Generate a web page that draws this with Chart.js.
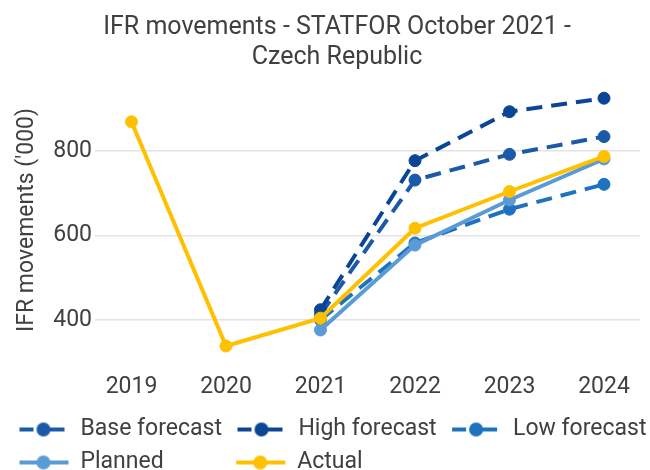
<!DOCTYPE html>
<html>
<head>
<meta charset="utf-8">
<script src="https://cdn.jsdelivr.net/npm/chart.js@4.4.0/dist/chart.umd.min.js"></script>
<style>
    html, body { margin: 0; padding: 0; background: #ffffff; }
    #chart { display: block; }
</style>
</head>
<body>
<canvas id="chart" width="650" height="470"></canvas>
<script>
// Values ('000 IFR movements)
const years = ['2019', '2020', '2021', '2022', '2023', '2024'];
const baseForecast = [null, null, 413, 731, 792, 834];
const highForecast = [null, null, 424, 777, 893, 925];
const lowForecast = [null, null, 400, 582, 662, 721];
const planned = [null, null, 376, 577, 684, 781];
const actual = [869, 338, 404, 617, 704, 787];
const yTicks = [400, 600, 800];

const TEXT_COLOR = '#404040';
const FONT = { family: 'Roboto', size: 23 };

/**
 * Small canvas used as the legend symbol: a line with a dot
 */
function legendSymbol(color, dashed) {
    const c = document.createElement('canvas');
    c.width = 60;
    c.height = 18;
    const g = c.getContext('2d');
    g.strokeStyle = color;
    g.fillStyle = color;
    g.lineWidth = 4;
    g.beginPath();
    if (dashed) {
        g.moveTo(8, 9); g.lineTo(22, 9);
        g.moveTo(32, 9); g.lineTo(53, 9);
    } else {
        g.moveTo(8, 9); g.lineTo(57, 9);
    }
    g.stroke();
    g.beginPath();
    g.arc(32, 9, 7, 0, Math.PI * 2);
    g.fill();
    return c;
}

// x is a linear index so the first/last year sit where the reference has them
function toPoints(values) {
    return values.map((v, i) => ({ x: i, y: v }));
}

function series(label, values, color, dashed, order) {
    return {
        label: label,
        data: toPoints(values),
        borderColor: color,
        backgroundColor: color,
        pointBackgroundColor: color,
        pointBorderColor: color,
        borderWidth: 4,
        borderDash: dashed ? [16, 9] : [],
        pointRadius: 6,
        pointHoverRadius: 6,
        pointBorderWidth: 1,
        tension: 0,
        fill: false,
        clip: false,
        order: order,
        dashed: dashed
    };
}

const datasets = [
    series('Base forecast', baseForecast, '#1a5aa8', true, 4),
    series('High forecast', highForecast, '#0b4596', true, 3),
    series('Low forecast', lowForecast, '#1f72bd', true, 2),
    series('Planned', planned, '#5b9bd5', false, 1),
    series('Actual', actual, '#ffc000', false, 0)
];

const ctx = document.getElementById('chart').getContext('2d');

new Chart(ctx, {
    type: 'line',
    data: { datasets: datasets },
    options: {
        responsive: false,
        animation: false,
        events: [],
        layout: {
            // negative right padding gives the legend row room for three items
            padding: { left: 4, right: -20, top: 0, bottom: -14 }
        },
        plugins: {
            title: {
                display: true,
                text: ['IFR movements - STATFOR October 2021 -', 'Czech Republic'],
                color: TEXT_COLOR,
                font: { family: 'Roboto', size: 25, weight: 'normal', lineHeight: 1.2 },
                padding: { top: 13, bottom: 10 }
            },
            legend: {
                position: 'bottom',
                align: 'start',
                labels: {
                    color: TEXT_COLOR,
                    font: FONT,
                    usePointStyle: true,
                    pointStyleWidth: 55,
                    padding: 10,
                    generateLabels: function(chart) {
                        return chart.data.datasets.map((ds, i) => ({
                            // extra spaces keep "Actual" under the second column
                            text: i === 3 ? ds.label + ' '.repeat(10) : ds.label,
                            fillStyle: ds.borderColor,
                            strokeStyle: ds.borderColor,
                            lineWidth: 0,
                            pointStyle: legendSymbol(ds.borderColor, ds.dashed),
                            fontColor: TEXT_COLOR,
                            hidden: false,
                            datasetIndex: i
                        }));
                    }
                }
            },
            tooltip: { enabled: false }
        },
        scales: {
            x: {
                type: 'linear',
                min: -0.386,
                max: 5.381,
                afterBuildTicks: function(scale) {
                    scale.ticks = years.map((y, i) => ({ value: i }));
                },
                afterFit: function(scale) {
                    scale.height = 51;
                },
                ticks: {
                    callback: value => years[value],
                    color: TEXT_COLOR,
                    font: FONT,
                    padding: 8,
                    maxRotation: 0,
                    autoSkip: false
                },
                grid: { display: false },
                border: { display: false }
            },
            y: {
                min: 312,
                max: 961,
                afterBuildTicks: function(scale) {
                    scale.ticks = yTicks.map(v => ({ value: v }));
                },
                afterFit: function(scale) {
                    scale.width = 91;
                },
                ticks: {
                    color: TEXT_COLOR,
                    font: FONT,
                    padding: 3
                },
                grid: {
                    color: '#e3e3e3',
                    lineWidth: 1.5,
                    drawTicks: false
                },
                border: { display: false },
                title: {
                    display: true,
                    text: "IFR movements ('000)",
                    color: TEXT_COLOR,
                    font: FONT,
                    padding: { top: 9, bottom: 0 }
                }
            },
            // empty strip on the right so the grid stops short of the edge
            yRight: {
                position: 'right',
                ticks: { display: false },
                grid: { display: false },
                border: { display: false },
                afterFit: function(scale) {
                    scale.width = 30;
                }
            }
        }
    }
});
</script>
</body>
</html>
